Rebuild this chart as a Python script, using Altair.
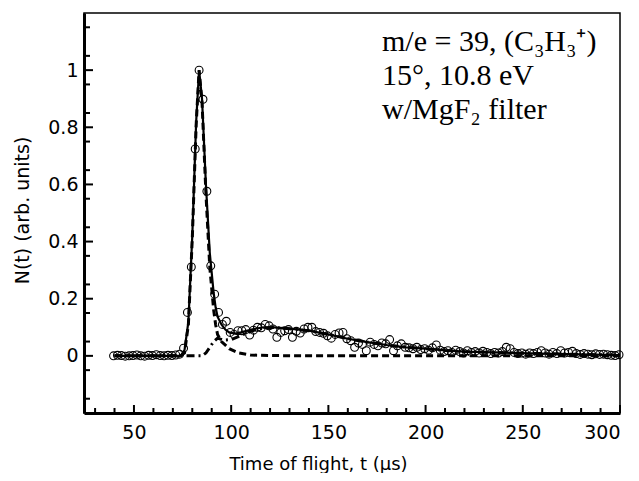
import altair as alt
import pandas as pd
import numpy as np

# ---- data ----
times = [round(39.5 + 2 * i, 1) for i in range(131)]
counts = [
    0.000, 0.002, 0.001, -0.001, 0.000, 0.001, 0.003, 0.000, -0.001, 0.002,
    0.001, 0.004, 0.001, 0.000, 0.002, 0.001, 0.003, 0.006, 0.027, 0.152,
    0.311, 0.724, 1.000, 0.898, 0.576, 0.315, 0.216, 0.152, 0.110, 0.121,
    0.082, 0.075, 0.088, 0.088, 0.092, 0.073, 0.090, 0.100, 0.098, 0.110,
    0.105, 0.094, 0.065, 0.082, 0.088, 0.092, 0.065, 0.086, 0.080, 0.094,
    0.100, 0.100, 0.085, 0.082, 0.079, 0.070, 0.062, 0.075, 0.080, 0.082,
    0.060, 0.053, 0.030, 0.045, 0.040, 0.018, 0.048, 0.040, 0.035, 0.045,
    0.042, 0.057, 0.018, 0.035, 0.042, 0.030, 0.028, 0.025, 0.030, 0.022,
    0.025, 0.020, 0.028, 0.038, 0.020, 0.015, 0.018, 0.012, 0.020, 0.015,
    0.010, 0.018, 0.012, 0.015, 0.010, 0.016, 0.012, 0.008, 0.012, 0.010,
    0.015, 0.030, 0.025, 0.012, 0.008, 0.010, 0.006, 0.010, 0.008, 0.012,
    0.018, 0.010, 0.006, 0.012, 0.008, 0.018, 0.010, 0.012, 0.016, 0.008,
    0.005, 0.008, 0.006, 0.004, 0.007, 0.005, 0.006, 0.004, 0.002, 0.001,
    0.004,
]

total_t = [40, 74, 76, 78, 80, 82, 83.5, 85, 87, 89, 91, 92, 93, 95, 97, 99, 102,
           105, 108, 112, 117, 122, 130, 140, 150, 160, 170, 180, 190, 200, 210,
           220, 240, 260, 280, 300]
total_v = [0, 0, 0.02, 0.12, 0.42, 0.82, 1.0, 0.9, 0.6, 0.36, 0.22, 0.17, 0.137,
           0.11, 0.092, 0.082, 0.078, 0.082, 0.088, 0.095, 0.1, 0.1, 0.095, 0.088,
           0.075, 0.06, 0.048, 0.038, 0.03, 0.025, 0.019, 0.015, 0.011, 0.008,
           0.005, 0.003]

fast_t = [40, 74, 76, 78, 80, 82, 83.5, 85, 87, 89, 91, 92, 93, 95, 99, 104, 110,
          120, 150, 300]
fast_v = [0, 0, 0.01, 0.11, 0.41, 0.81, 1.0, 0.89, 0.57, 0.31, 0.16, 0.11, 0.075,
          0.05, 0.025, 0.01, 0.003, 0.001, 0, 0]

slow_t = [40, 80, 85, 87, 89, 91, 93, 96, 100, 104, 108, 112, 117, 122, 130, 140,
          150, 160, 170, 180, 190, 200, 210, 220, 240, 260, 280, 300]
slow_v = [0, 0, 0.0, 0.01, 0.03, 0.05, 0.062, 0.055, 0.057, 0.068, 0.08, 0.09,
          0.097, 0.099, 0.095, 0.088, 0.075, 0.06, 0.048, 0.038, 0.03, 0.025,
          0.019, 0.015, 0.011, 0.008, 0.005, 0.003]

x_labels = [50, 100, 150, 200, 250, 300]
y_labels = [0, 0.2, 0.4, 0.6, 0.8, 1.0]

annotation = ["m/e = 39, (C\u2083H\u2083\u207a)", "15\u00b0, 10.8 eV", "w/MgF\u2082 filter"]

# ---- tables ----
pts = pd.DataFrame({"t": times, "v": counts})
tot = pd.DataFrame({"t": total_t, "v": total_v})
fast = pd.DataFrame({"t": fast_t, "v": fast_v})
slow = pd.DataFrame({"t": slow_t, "v": slow_v})

x_major = pd.DataFrame({"t": x_labels})
x_minor = pd.DataFrame({"t": [x for x in range(30, 300, 10) if x % 50 != 0]})
y_major = pd.DataFrame({"v": [round(v, 2) for v in np.arange(-0.2, 1.21, 0.2)][1:-1]})
y_minor = pd.DataFrame({"v": [round(v, 2) for v in np.arange(-0.15, 1.2, 0.1)]})

W, H = 536, 400
xs = alt.Scale(domain=[24.3, 300], nice=False, zero=False)
ys = alt.Scale(domain=[-0.2, 1.2], nice=False, zero=False)

xaxis = alt.Axis(values=x_labels, ticks=False, grid=False, domainWidth=3,
                 domainColor="black", labelFont="DejaVu Sans", labelFontSize=19,
                 labelColor="black", labelPadding=10,
                 title="Time of flight, t (\u03bcs)", titleFont="DejaVu Sans",
                 titleFontSize=18, titleFontWeight="normal", titleColor="black",
                 titleX=234, titleY=56, titleBaseline="alphabetic", titleAnchor="start",
                 titleAlign="center")
yaxis = alt.Axis(values=y_labels, ticks=False, grid=False, domainWidth=3,
                 domainColor="black", labelFont="DejaVu Sans", labelFontSize=19,
                 labelColor="black", labelPadding=6, format="~g",
                 title="N(t) (arb. units)", titleFont="DejaVu Sans",
                 titleFontSize=19, titleFontWeight="normal", titleColor="black",
                 titleX=-62, titleY=197, titleAlign="center", titleBaseline="middle",
                 titleAnchor="start")

X = alt.X("t:Q", scale=xs, axis=xaxis)
Y = alt.Y("v:Q", scale=ys, axis=yaxis)

slow_line = alt.Chart(slow).mark_line(color="black", strokeWidth=3,
                                      strokeDash=[8, 4, 2, 4], clip=True).encode(x=X, y=Y)
fast_line = alt.Chart(fast).mark_line(color="black", strokeWidth=3,
                                      strokeDash=[7, 4], clip=True).encode(x=X, y=Y)
total_line = alt.Chart(tot).mark_line(color="black", strokeWidth=2.2,
                                      clip=True).encode(x=X, y=Y)
points = alt.Chart(pts).mark_point(shape="circle", filled=False, size=62,
                                   color="black", strokeWidth=1.1,
                                   opacity=1).encode(x=X, y=Y)

yt_major = alt.Chart(y_major).mark_rule(color="black", strokeWidth=2).encode(
    y=alt.Y("v:Q", scale=ys, axis=yaxis), x=alt.value(0), x2=alt.value(9))
yt_minor = alt.Chart(y_minor).mark_rule(color="black", strokeWidth=2).encode(
    y=alt.Y("v:Q", scale=ys, axis=yaxis), x=alt.value(0), x2=alt.value(6))
xt_major = alt.Chart(x_major).mark_rule(color="black", strokeWidth=2).encode(
    x=alt.X("t:Q", scale=xs, axis=xaxis), y=alt.value(H), y2=alt.value(H - 8))
xt_minor = alt.Chart(x_minor).mark_rule(color="black", strokeWidth=2).encode(
    x=alt.X("t:Q", scale=xs, axis=xaxis), y=alt.value(H), y2=alt.value(H - 5))

ann_rows = [38, 72, 106]
texts = [
    alt.Chart(pts).mark_text(font="Liberation Serif", fontSize=30, align="left",
                             baseline="alphabetic", color="black", text=s).encode(
        x=alt.value(298), y=alt.value(yy)).transform_filter("datum.t < 40")
    for s, yy in zip(annotation, ann_rows)
]

chart = alt.layer(slow_line, fast_line, total_line, points,
                  yt_major, yt_minor, xt_major, xt_minor, *texts).properties(
    width=W, height=H,
    autosize=alt.AutoSizeParams(type="none"),
    padding={"left": 76, "top": 5, "right": 11, "bottom": 60},
    background="white",
).configure_view(stroke="black", strokeWidth=1.5)

chart.save("out.html", embed_options={"renderer": "svg", "actions": False})
